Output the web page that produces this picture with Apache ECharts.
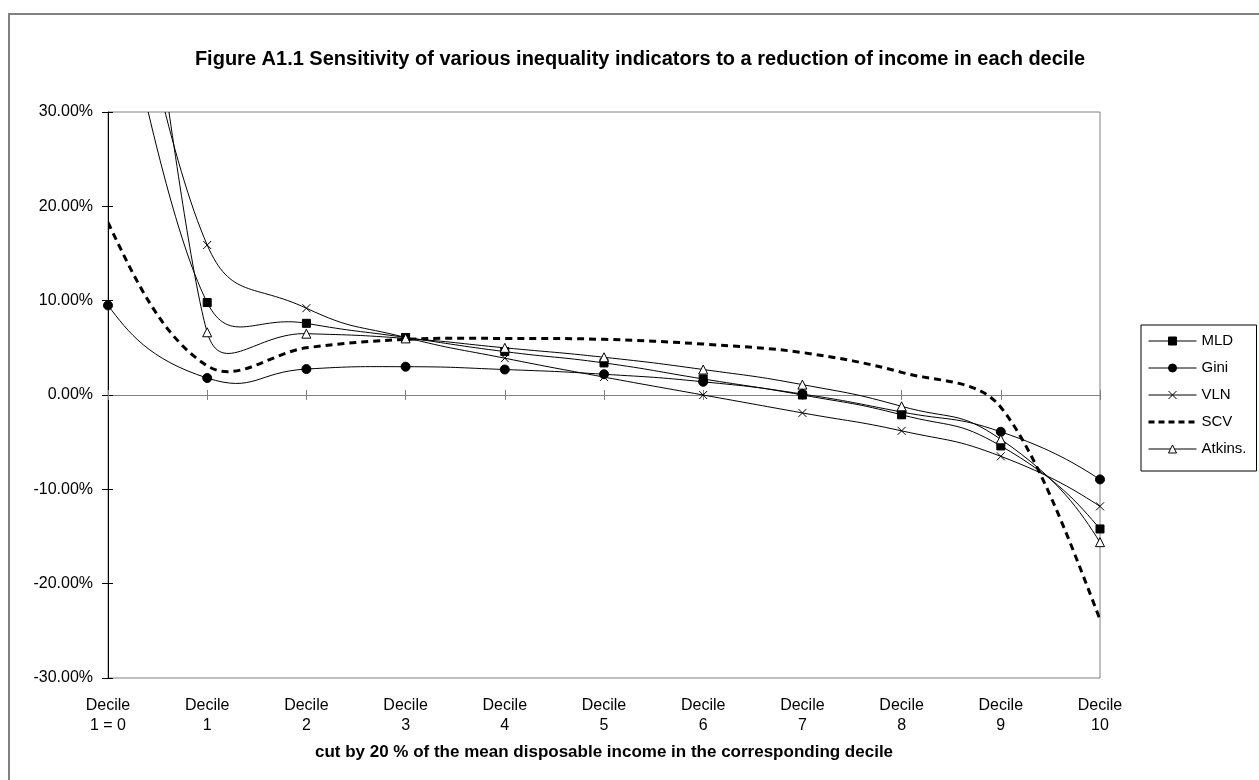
<!DOCTYPE html>
<html><head><meta charset="utf-8">
<script src="https://cdn.jsdelivr.net/npm/echarts@6/dist/echarts.min.js"></script>
<style>html,body{margin:0;padding:0;background:#fff}#c{width:1259px;height:780px}</style>
</head><body><div id="c"></div>
<script>
// ---- data ----
const categories = ['Decile\n1 = 0','Decile\n1','Decile\n2','Decile\n3','Decile\n4','Decile\n5','Decile\n6','Decile\n7','Decile\n8','Decile\n9','Decile\n10'];
const seriesNames = ['MLD','Gini','VLN','SCV','Atkins.'];
const mld    = [49.3, 9.8,  7.6,  6.1, 4.6, 3.4, 1.7,  0.0, -2.1, -5.4, -14.2];
const gini   = [9.5,  1.8,  2.75, 3.0, 2.7, 2.2, 1.4,  0.1, -1.8, -3.9, -8.95];
const vln    = [57.5, 15.9, 9.2,  6.1, 3.9, 1.9, 0.0, -1.9, -3.8, -6.5, -11.8];
const scv    = [18.3, 3.1,  5.0,  5.9, 6.0, 5.9, 5.4,  4.5,  2.4, -1.3, -23.8];
const atkins = [78.5, 6.65, 6.5,  6.0, 5.0, 4.0, 2.7,  1.1, -1.2, -4.7, -15.6];
const yMin = -30, yMax = 30, yStep = 10;

const FONT = "'Liberation Sans', Arial, Helvetica, sans-serif";

// smooth bezier through the projected points (Excel-like spline)
function smoothPath(pts, k, cap) {
  const n = pts.length, before = [], after = [];
  for (let i = 1; i < n - 1; i++) {
    const p = pts[i - 1], c = pts[i], q = pts[i + 1];
    let vx = q[0] - p[0], vy = q[1] - p[1];
    const vl = Math.hypot(vx, vy) || 1;
    vx /= vl; vy /= vl;
    const l0 = Math.hypot(c[0] - p[0], c[1] - p[1]);
    const l1 = Math.hypot(q[0] - c[0], q[1] - c[1]);
    const h0 = k * Math.min(l0, l1 * cap), h1 = k * Math.min(l1, l0 * cap);
    before[i] = [c[0] - vx * h0, c[1] - vy * h0];
    after[i] = [c[0] + vx * h1, c[1] + vy * h1];
  }
  after[0] = [(pts[0][0] + before[1][0]) / 2, (pts[0][1] + before[1][1]) / 2];
  before[n - 1] = [(pts[n - 1][0] + after[n - 2][0]) / 2, (pts[n - 1][1] + after[n - 2][1]) / 2];
  const f = a => a[0].toFixed(2) + ' ' + a[1].toFixed(2);
  let d = 'M' + f(pts[0]);
  for (let i = 1; i < n; i++) d += ' C' + f(after[i - 1]) + ' ' + f(before[i]) + ' ' + f(pts[i]);
  return d;
}

function curveSeries(values, dashed, k) {
  return {
    type: 'custom', name: '_curve', silent: true, z: 3,
    data: [[0, 0]], encode: { x: 0, y: 1 },
    renderItem: function (params, api) {
      const pts = values.map((v, i) => api.coord([i, v]));
      const cs = params.coordSys;
      return {
        type: 'path',
        shape: { pathData: smoothPath(pts, k, 1.5) },
        style: { fill: 'none', stroke: '#000', lineWidth: dashed ? 3 : 1, lineDash: dashed ? [7, 5] : null },
        clipPath: { type: 'rect', shape: { x: cs.x, y: cs.y, width: cs.width, height: cs.height } }
      };
    }
  };
}

function markerSeries(name, values, symbol, size, fill) {
  return {
    type: 'line', name: name, data: values, symbol: symbol, symbolSize: size,
    showSymbol: symbol !== 'none', showAllSymbol: true, clip: true, silent: true, z: 5,
    lineStyle: { opacity: 0, width: 1, color: '#000' },
    itemStyle: { color: fill, borderColor: '#000', borderWidth: 1 },
    emphasis: { disabled: true }
  };
}

const chart = echarts.init(document.getElementById('c'));
chart.setOption({
  animation: false,
  backgroundColor: '#fff',
  title: {
    text: 'Figure A1.1 Sensitivity of various inequality indicators to a reduction of income in each decile',
    left: 635, top: 44, textAlign: 'center',
    textStyle: { fontFamily: FONT, fontSize: 20, fontWeight: 'bold', color: '#000' }
  },
  graphic: [{
    type: 'rect', silent: true, z: 0,
    shape: { x: 9, y: 14, width: 1400, height: 1000 },
    style: { fill: 'none', stroke: '#808080', lineWidth: 2 }
  }],
  grid: { left: 108, right: 159, top: 112, bottom: 102, show: true, borderColor: '#808080', borderWidth: 1, backgroundColor: 'transparent' },
  legend: {
    orient: 'vertical', left: 1141, top: 325,
    data: [
      { name: 'MLD' }, { name: 'Gini' }, { name: 'VLN' },
      { name: 'SCV', lineStyle: { width: 3, type: [6, 4] }, itemStyle: { opacity: 0 } },
      { name: 'Atkins.' }
    ],
    itemWidth: 48, itemHeight: 10, itemGap: 11,
    padding: [8, 10, 14, 6],
    borderColor: '#000', borderWidth: 1, backgroundColor: '#fff',
    selectedMode: false,
    textStyle: { fontFamily: FONT, fontSize: 15, color: '#000', lineHeight: 16 },
    lineStyle: { color: '#000', width: 1, type: 'solid', opacity: 1 },
    itemStyle: { borderWidth: 1, borderColor: '#000' }
  },
  xAxis: [
    {
      type: 'category', data: categories, boundaryGap: false, position: 'bottom',
      axisLine: { show: false, onZero: false }, axisTick: { show: false }, splitLine: { show: false },
      axisLabel: { interval: 0, fontFamily: FONT, fontSize: 16, color: '#000', lineHeight: 20, margin: 18 },
      name: 'cut by 20 % of the mean disposable income in the corresponding decile',
      nameLocation: 'middle', nameGap: 66,
      nameTextStyle: { fontFamily: FONT, fontSize: 17, fontWeight: 'bold', color: '#000' }
    },
    {
      type: 'category', data: categories, boundaryGap: false, position: 'bottom',
      axisLine: { show: true, onZero: true, onZeroAxisIndex: 0, lineStyle: { color: '#808080', width: 1 } },
      axisTick: { show: true, inside: true, length: 5, interval: 0, lineStyle: { color: '#808080' } },
      axisLabel: { show: false }, splitLine: { show: false }
    },
    {
      type: 'category', data: categories, boundaryGap: false, position: 'bottom',
      axisLine: { show: false, onZero: true, onZeroAxisIndex: 0 },
      axisTick: { show: true, inside: false, length: 5, interval: 0, lineStyle: { color: '#808080' } },
      axisLabel: { show: false }, splitLine: { show: false }
    }
  ],
  yAxis: [
    {
      type: 'value', min: yMin, max: yMax, interval: yStep, position: 'left',
      axisLine: { show: true, onZero: false, lineStyle: { color: '#000', width: 1 } },
      axisTick: { show: true, length: 6, lineStyle: { color: '#000' } },
      axisLabel: { formatter: v => v.toFixed(2) + '%', fontFamily: FONT, fontSize: 16, color: '#000', margin: 15 },
      splitLine: { show: false }
    },
    {
      type: 'value', min: yMin, max: yMax, interval: yStep, position: 'left',
      axisLine: { show: false, onZero: false },
      axisTick: { show: true, inside: true, length: 5, lineStyle: { color: '#000' } },
      axisLabel: { show: false }, splitLine: { show: false }
    }
  ],
  series: [
    markerSeries('MLD', mld, 'rect', 8, '#000'),
    markerSeries('Gini', gini, 'circle', 9, '#000'),
    markerSeries('VLN', vln, 'path://M0 0L10 10M10 0L0 10', 8, '#000'),
    markerSeries('SCV', scv, 'none', 8, '#000'),
    markerSeries('Atkins.', atkins, 'path://M5 0L10 9L0 9Z', 9, '#fff'),
    curveSeries(mld, false, 0.5),
    curveSeries(gini, false, 0.5),
    curveSeries(vln, false, 0.5),
    curveSeries(scv, true, 0.35),
    curveSeries(atkins, false, 0.5)
  ]
});
</script>
</body></html>
